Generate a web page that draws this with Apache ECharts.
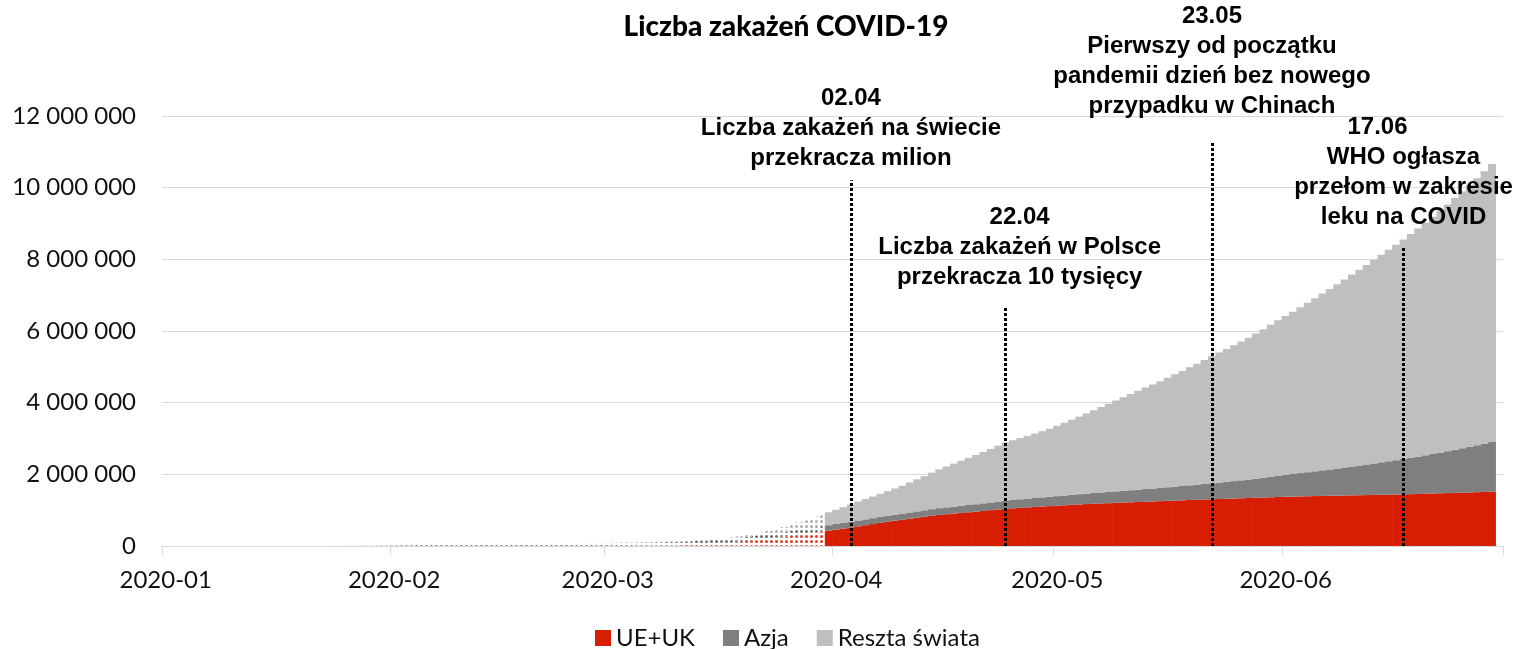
<!DOCTYPE html>
<html lang="pl">
<head>
<meta charset="utf-8">
<title>Liczba zakażeń COVID-19</title>
<script src="https://cdn.jsdelivr.net/npm/echarts@6.0.0/dist/echarts.min.js"></script>
<style>
  html, body { margin: 0; background: #fff; }
  #container { width: 1515px; height: 649px; }
</style>
</head>
<body>
<div id="container"></div>
<script>
// kolejne dni 2020-01-01 .. 2020-06-30
var days = [];
for (var d = new Date(Date.UTC(2020, 0, 1)); d.getTime() < Date.UTC(2020, 6, 1); d.setUTCDate(d.getUTCDate() + 1)) {
    days.push(d.toISOString().slice(0, 10));
}

// przypadki skumulowane, w tysiącach
var ueuk = [
    0,0,0,0,0,0,0,0,0,0, 0,0,0,0,0,0,0,0,0,0, 0,0,0,0,0,0,0,0,0,0.01,0.01,
    0.02,0.02,0.03,0.03,0.03,0.03,0.03,0.04,0.04,0.04, 0.04,0.04,0.04,0.04,0.04,0.04,0.04,0.04,0.05,0.06, 0.1,0.2,0.3,0.4,0.5,0.7,0.9,1.2,1.6,
    2.0,2.6,3.3,4.3,5.6,7.2,9.1,11.8,14.5,18, 22,29,38,48,58,72,88,104,121,140, 161,184,210,238,266,295,325,353,380,405, 430,
    460,490,520,550,580,612,645,675,705,730, 760,788,815,843,868,888,906,924,942,960, 980,1000,1020,1040,1053,1066,1078,1090,1102,1114,
    1125,1137,1149,1160,1170,1180,1188,1196,1204,1212, 1220,1228,1236,1244,1252,1260,1268,1276,1283,1290, 1297,1304,1311,1318,1325,1332,1339,1346,1353,1360, 1367,
    1374,1379,1384,1389,1393,1397,1401,1405,1409,1413, 1417,1421,1425,1429,1433,1437,1442,1447,1453,1459, 1465,1471,1477,1483,1489,1495,1502,1509,1516,null
];
var azja = [
    0,0,0,0,0,0,0,0,0,0, 0,0,0,0,0,0,0,0,0,0, 0.6,0.6,0.9,1.3,2.0,2.8,5.5,6.1,8.1,9.7,11.8,
    16.6,19.6,23.6,27.3,30.5,34.1,36.8,39.9,42.5,44.5, 44.9,60.1,66.6,68.7,70.9,73.0,74.9,75.4,75.9,76.4, 78.1,78.4,79.0,79.6,80.3,81.2,82.2,83.4,84.3,
    85.5,86.8,88.0,89.5,91.0,92.5,94.0,95.5,97.0,98.5, 100,102,104,106,108,110,112,114,116.5,119, 121.5,124,127,130,133,136,139,142,145,148, 151,
    155,157,159,161,163,165,167,169,171,173, 176,179,182,185,188,191,194,198,202,206, 211,216,221,226,231,237,243,249,255,261,
    267,273,279,286,293,300,307,314,321,329, 337,345,353,361,370,380,390,400,411,422, 434,446,459,472,486,501,517,533,550,568, 588,
    610,630,650,671,692,714,736,759,782,806, 830,855,880,906,932,959,987,1015,1044,1074, 1105,1137,1170,1204,1239,1275,1312,1350,1389,null
];
var reszta = [
    0,0,0,0,0,0,0,0,0,0, 0,0,0,0,0,0,0,0,0,0, 0,0.01,0.01,0.02,0.03,0.04,0.05,0.06,0.07,0.1,0.1,
    0.2,0.3,0.3,0.3,0.3,0.3,0.3,0.3,0.3,0.3, 0.3,0.3,0.3,0.3,0.3,0.3,0.3,0.3,0.3,0.4, 0.4,0.4,0.4,0.5,0.7,0.9,1.1,1.5,2.0,
    2.8,3.4,3.8,4.1,5.2,6.1,6.7,7.0,7.5,8.0, 9.0,11,13,13.4,15.5,17,19,24.7,34.7,45.5, 54.5,70.2,81,99.7,130.6,162.3,196.7,225.1,257.4,304.5, 359,
    395,438,481,529,567,603,643,686,729,777, 834,893,953,1017,1084,1141,1200,1258,1316,1374, 1434,1494,1559,1624,1666,1707,1754,1801,1848,1895,
    1963,2030,2097,2164,2237,2310,2385,2460,2535,2609, 2683,2757,2831,2905,2978,3055,3132,3209,3291,3373, 3459,3545,3630,3710,3789,3872,3954,4051,4147,4247, 4345,
    4436,4531,4631,4730,4830,4934,5038,5141,5249,5356, 5463,5569,5680,5790,5900,6014,6126,6243,6363,6487, 6615,6747,6883,7023,7162,7305,7451,7601,7755,null
];
var solidFrom = '2020-03-31';   // wcześniejsze dni kropkowane

var yTicks = [0, 2000000, 4000000, 6000000, 8000000, 10000000, 12000000];

// adnotacje: dzień linii, wysokość linii, data i opis
var annDays = ['2020-04-03', '2020-04-24', '2020-05-22', '2020-06-17'];
var annTops = [10210000, 6640000, 11280000, 8320000];
var annDates = ['02.04', '22.04', '23.05', '17.06'];
var annTexts = [
    ['Liczba zakażeń na świecie', 'przekracza milion'],
    ['Liczba zakażeń w Polsce', 'przekracza 10 tysięcy'],
    ['Pierwszy od początku', 'pandemii dzień bez nowego', 'przypadku w Chinach'],
    ['WHO ogłasza', 'przełom w zakresie', 'leku na COVID']
];
var annGap = [7, 16, 20, 15];
var annShift = [0, 14, 0, 0];

var colors = ['#d81e02', '#7f7f7f', '#bfbfbf'];
var dotColors = ['#e23a20', '#6a6a6a', '#acacac'];

function buildData(arr, k) {
    return arr.map(function (v, i) {
        var val = v == null ? null : Math.round(v * 1000);
        if (days[i] < solidFrom) {
            return {
                value: val,
                itemStyle: {
                    color: '#ffffff',
                    decal: {
                        symbol: 'circle',
                        symbolSize: 1,
                        color: dotColors[k],
                        dashArrayX: [2.4, 2],
                        dashArrayY: [2.4, 1.8]
                    }
                }
            };
        }
        return val;
    });
}

function fmt(v) {
    return String(v).replace(/\B(?=(\d{3})+(?!\d))/g, ' ');
}

var calibri = 'Lato, "Open Sans", sans-serif';
var arial = '"Liberation Sans", Arial, sans-serif';

var annLines = annDays.map(function (day, i) {
    return [{ coord: [day, 0] }, { coord: [day, annTops[i]] }];
});
var annLabels = annDays.map(function (day, i) {
    var dateStyle = i === 3 ? 'd2' : 'd';
    var txt = '{' + dateStyle + '|' + annDates[i] + '}';
    annTexts[i].forEach(function (t) { txt += '\n{t|' + t + '}'; });
    return {
        coord: [day, annTops[i]],
        symbolSize: 0,
        label: {
            show: true,
            position: 'top',
            distance: annGap[i],
            offset: [annShift[i], 0],
            formatter: txt
        }
    };
});

var richAnn = {
    d: { fontFamily: arial, fontSize: 24, fontWeight: 'bold', color: '#000', lineHeight: 30 },
    d2: { fontFamily: arial, fontSize: 24, fontWeight: 'bold', color: '#000', lineHeight: 30, padding: [0, 52, 0, 0] },
    t: { fontFamily: arial, fontSize: 24, fontWeight: 'bold', color: '#000', lineHeight: 30 }
};

var names = ['UE+UK', 'Azja', 'Reszta świata'];
var series = [ueuk, azja, reszta].map(function (arr, k) {
    var s = {
        name: names[k],
        type: 'bar',
        stack: 'total',
        barWidth: 8,
        itemStyle: { color: colors[k] },
        data: buildData(arr, k)
    };
    if (k === 2) {
        s.markLine = {
            silent: true,
            symbol: 'none',
            z: 10,
            label: { show: false },
            lineStyle: { color: '#000', width: 3, type: [3, 2] },
            data: annLines
        };
        s.markPoint = {
            silent: true,
            symbol: 'rect',
            z: 10,
            label: { rich: richAnn },
            data: annLabels
        };
    }
    return s;
});

var myChart = echarts.init(document.getElementById('container'));
var option = {
    animation: false,
    title: {
        text: 'Liczba zakażeń COVID-19',
        left: 781,
        top: 8,
        textAlign: 'center',
        textStyle: { fontFamily: calibri, fontSize: 28, fontWeight: 900, color: '#000' }
    },
    legend: {
        left: 590,
        top: 621,
        icon: 'rect',
        itemWidth: 16,
        itemHeight: 16,
        itemGap: 28,
        textStyle: { fontFamily: calibri, fontSize: 24, color: '#111' },
        data: names
    },
    grid: { left: 162, right: 12, top: 116, bottom: 103 },
    xAxis: {
        type: 'category',
        data: days,
        boundaryGap: true,
        axisLine: { lineStyle: { color: '#d9d9d9', width: 1 } },
        axisTick: {
            show: true,
            length: 9,
            lineStyle: { color: '#d9d9d9' },
            interval: function (i, v) { return v.slice(8) === '01'; }
        },
        axisLabel: {
            interval: function (i, v) { return v.slice(8) === '01'; },
            formatter: function (v) { return v.slice(0, 7); },
            margin: 22,
            fontFamily: calibri,
            fontSize: 24,
            color: '#111'
        },
        splitLine: { show: false }
    },
    yAxis: {
        type: 'value',
        min: yTicks[0],
        max: yTicks[yTicks.length - 1],
        interval: yTicks[1] - yTicks[0],
        axisLine: { show: false },
        axisTick: { show: false },
        axisLabel: {
            formatter: fmt,
            margin: 26,
            fontFamily: calibri,
            fontSize: 24,
            color: '#111'
        },
        splitLine: { lineStyle: { color: '#d9d9d9', width: 1 } }
    },
    series: series
};
myChart.setOption(option);
</script>
</body>
</html>
